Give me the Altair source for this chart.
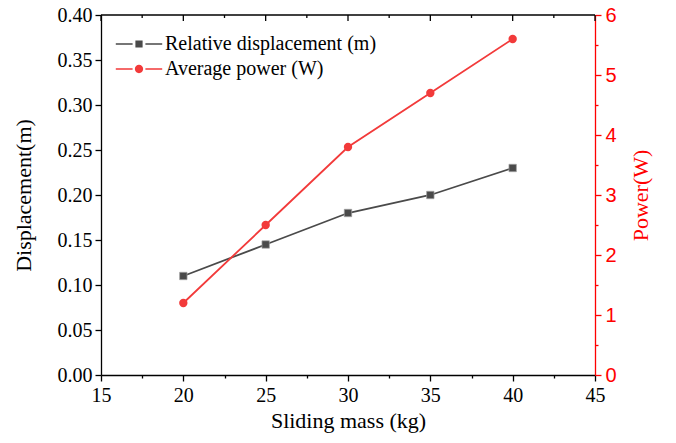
import altair as alt
import pandas as pd

# ---- data ----
mass = [20, 25, 30, 35, 40]
displacement = [0.11, 0.145, 0.18, 0.20, 0.23]
power = [1.2, 2.5, 3.8, 4.7, 5.6]
series_names = ["Relative displacement (m)", "Average power (W)"]
x_domain = [15, 45]
yl_domain = [0, 0.4]
yr_domain = [0, 6]
x_ticks = [15, 17.5, 20, 22.5, 25, 27.5, 30, 32.5, 35, 37.5, 40, 42.5, 45]
left_ticks = [0, 0.025, 0.05, 0.075, 0.10, 0.125, 0.15, 0.175, 0.20,
              0.225, 0.25, 0.275, 0.30, 0.325, 0.35, 0.375, 0.40]
right_ticks = [0, 0.5, 1, 1.5, 2, 2.5, 3, 3.5, 4, 4.5, 5, 5.5, 6]

df_d = pd.DataFrame({"mass": mass, "value": displacement, "series": series_names[0]})
df_p = pd.DataFrame({"mass": mass, "value": power, "series": series_names[1]})
df_frame = pd.DataFrame({"mass": x_domain, "value": [yl_domain[1], yl_domain[1]]})
df_top_ticks = pd.DataFrame({"t": x_ticks})

SERIF = "Liberation Serif"
SANS = "Liberation Sans"
DARK = "#4a4a4a"
RED = "#f23a3a"
AXRED = "#ff0000"

SQ_PATH = ("M-2.9,-0.1H-0.8V0.1H-2.9Z "
           "M-0.45,-0.45H0.45V0.45H-0.45Z "
           "M0.8,-0.1H2.9V0.1H0.8Z")
CI_PATH = ("M-2.9,-0.1H-0.8V0.1H-2.9Z "
           "M0.52,0A0.52,0.52,0,1,1,-0.52,0A0.52,0.52,0,1,1,0.52,0Z "
           "M0.8,-0.1H2.9V0.1H0.8Z")

color_scale = alt.Scale(domain=series_names, range=[DARK, RED])
shape_scale = alt.Scale(domain=series_names, range=[SQ_PATH, CI_PATH])
x_scale = alt.Scale(domain=x_domain, nice=False, zero=False)
yl_scale = alt.Scale(domain=yl_domain, nice=False)
yr_scale = alt.Scale(domain=yr_domain, nice=False)

x_bottom_axis = alt.Axis(
    values=x_ticks, title="Sliding mass (kg)", orient="bottom",
    labelExpr="datum.value % 5 == 0 ? datum.label : ''",
    tickSize={"condition": {"test": "datum.value % 5 != 0", "value": 3}, "value": 6},
    labelFont=SERIF, labelFontSize=20, labelColor="black",
    titleFont=SERIF, titleFontSize=22, titleFontWeight="normal", titleColor="black",
    domainColor="black", tickColor="black", domainWidth=1.3, tickWidth=1.3,
    labelPadding=4, titlePadding=5, labelOverlap=False, labelFlush=False, grid=False,
)
y_left_axis = alt.Axis(
    values=left_ticks, title="Displacement(m)", orient="left",
    labelExpr="round(datum.value * 40) % 2 == 0 ? format(datum.value, '.2f') : ''",
    tickSize={"condition": {"test": "round(datum.value * 40) % 2 == 1", "value": 3}, "value": 6},
    labelFont=SERIF, labelFontSize=20, labelColor="black",
    titleFont=SERIF, titleFontSize=22, titleFontWeight="normal", titleColor="black",
    domainColor="black", tickColor="black", domainWidth=1.3, tickWidth=1.3,
    labelPadding=3, titlePadding=22, labelOverlap=False, labelFlush=False, grid=False,
)
y_right_axis = alt.Axis(
    values=right_ticks, title="Power(W)", orient="right",
    labelExpr="datum.value % 1 == 0 ? format(datum.value, 'd') : ''",
    tickSize={"condition": {"test": "datum.value % 1 != 0", "value": 3}, "value": 6},
    labelFont=SANS, labelFontSize=20, labelColor=AXRED,
    titleFont=SERIF, titleFontSize=22, titleFontWeight="normal", titleColor=AXRED,
    titleAngle=270, titleBaseline="top",
    domainColor=AXRED, tickColor=AXRED, domainWidth=1.3, tickWidth=1.3,
    labelPadding=4, titlePadding=14, labelOverlap=False, labelFlush=False, grid=False,
)

legend = alt.Legend(
    orient="none", legendX=28, legendY=19, title=None,
    labelFont=SERIF, labelFontSize=20, labelColor="black", labelLimit=400,
    symbolSize=256, symbolStrokeWidth=0, labelOffset=16, rowPadding=5, padding=0,
)

X = alt.X("mass:Q", scale=x_scale, axis=x_bottom_axis)
YL = alt.Y("value:Q", scale=yl_scale, axis=y_left_axis)

# top frame line and inward ticks, placed through the scales
frame_top = alt.Chart(df_frame).mark_line(color="black", strokeWidth=1.3).encode(x=X, y=YL)
top_major = alt.Chart(df_top_ticks).transform_filter("datum.t % 5 == 0").mark_rule(
    color="black", strokeWidth=1.3).encode(
    x=alt.X("t:Q", scale=x_scale, axis=x_bottom_axis),
    y=alt.datum(0.4), y2=alt.datum(0.3933),
)
top_minor = alt.Chart(df_top_ticks).transform_filter("datum.t % 5 != 0").mark_rule(
    color="black", strokeWidth=1.3).encode(
    x=alt.X("t:Q", scale=x_scale, axis=x_bottom_axis),
    y=alt.datum(0.4), y2=alt.datum(0.3967),
)

# left (displacement) layers
line_d = alt.Chart(df_d).mark_line(strokeWidth=1.8, color=DARK).encode(x=X, y=YL)
pts_d = alt.Chart(df_d).mark_point(shape="square", filled=True, size=55, opacity=1,
                                   color=DARK, stroke="#a0a0a0", strokeWidth=0.7).encode(x=X, y=YL)
legend_layer = alt.Chart(pd.concat([df_d, df_p])).mark_point(filled=True, opacity=1).encode(
    x=X, y=YL,
    color=alt.Color("series:N", scale=color_scale, legend=legend),
    shape=alt.Shape("series:N", scale=shape_scale, legend=legend),
).transform_filter("false")

left = alt.layer(frame_top, top_major, top_minor, line_d, pts_d, legend_layer)

# right (power) layers
YR = alt.Y("value:Q", scale=yr_scale, axis=y_right_axis)
line_p = alt.Chart(df_p).mark_line(strokeWidth=1.8, color=RED).encode(x=X, y=YR)
pts_p = alt.Chart(df_p).mark_point(shape="circle", filled=True, size=70, opacity=1,
                                   color=RED).encode(x=X, y=YR)
right = alt.layer(line_p, pts_p)

chart = alt.layer(left, right).resolve_scale(y="independent").properties(
    width=494, height=360,
    padding={"left": 93, "top": 7, "right": 70, "bottom": 60},
    autosize=alt.AutoSizeParams(type="none"),
).configure_view(stroke=None)

chart.save("out.html", embed_options={"renderer": "svg", "actions": False})
